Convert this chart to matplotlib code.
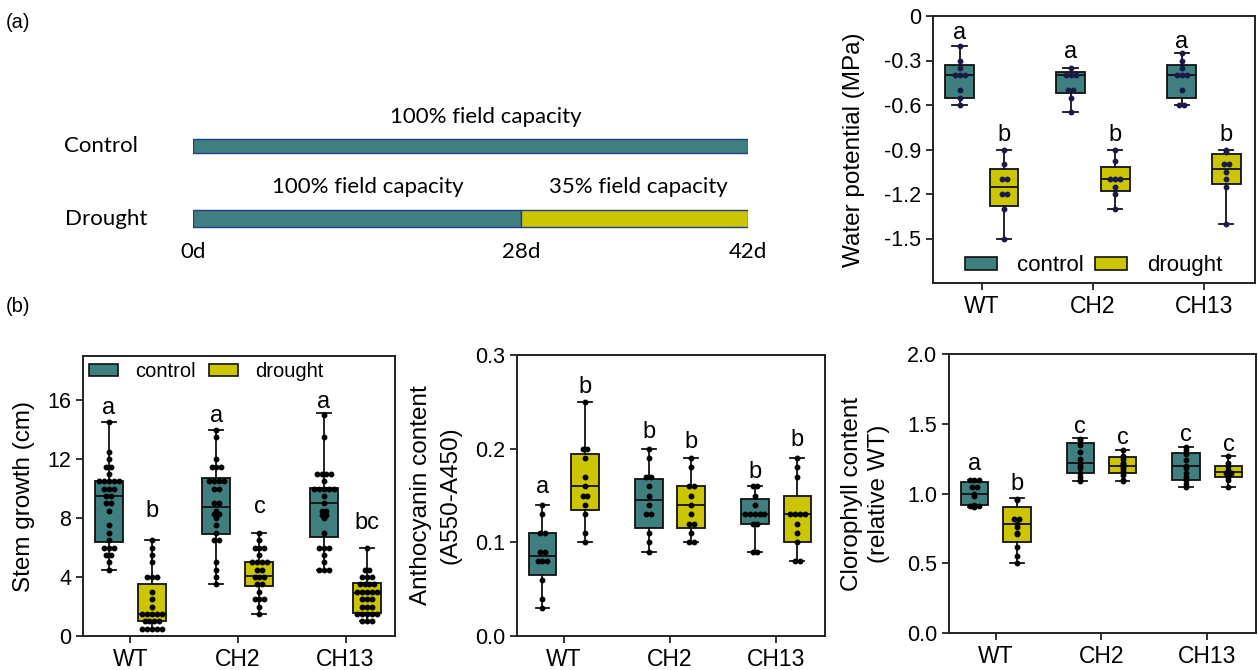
import matplotlib
matplotlib.use("Agg")
import matplotlib.pyplot as plt
from matplotlib.patches import Patch
import numpy as np

plt.rcParams['font.family'] = ['Liberation Sans', 'DejaVu Sans']
plt.rcParams['axes.unicode_minus'] = False

TEAL = '#3f7f7f'
YELLOW = '#cbc600'

genotypes = ['WT', 'CH2', 'CH13']

# schematic: watering regime (days)
days = [0, 28, 42]

# box stats per genotype: (min, q1, median, q3, max)
wp_ctrl_box = [(-0.6, -0.55, -0.4, -0.33, -0.2), (-0.65, -0.52, -0.4, -0.38, -0.35), (-0.6, -0.55, -0.4, -0.33, -0.25)]
wp_drt_box = [(-1.5, -1.28, -1.15, -1.03, -0.9), (-1.3, -1.18, -1.1, -1.02, -0.9), (-1.4, -1.135, -1.03, -0.93, -0.9)]
wp_ctrl_pts = [[-0.2, -0.3, -0.35, -0.4, -0.4, -0.4, -0.5, -0.55, -0.6],
               [-0.35, -0.4, -0.4, -0.4, -0.5, -0.5, -0.55, -0.65],
               [-0.25, -0.3, -0.35, -0.4, -0.4, -0.4, -0.5, -0.6, -0.6]]
wp_drt_pts = [[-0.9, -1.0, -1.1, -1.1, -1.2, -1.2, -1.3, -1.5],
              [-0.9, -0.98, -1.1, -1.1, -1.1, -1.15, -1.2, -1.3],
              [-0.9, -0.92, -1.0, -1.0, -1.05, -1.1, -1.15, -1.4]]
wp_letters = [('a', 'b'), ('a', 'b'), ('a', 'b')]
wp_letter_y = [(-0.115, -0.8), (-0.24, -0.8), (-0.175, -0.8)]

stem_ctrl_box = [(4.5, 6.4, 9.5, 10.5, 14.5), (3.5, 6.9, 8.75, 10.7, 14.0), (4.5, 6.75, 9.0, 10.05, 15.1)]
stem_drt_box = [(0.5, 1.0, 1.5, 3.55, 6.5), (1.5, 3.4, 4.05, 5.05, 7.0), (1.0, 1.55, 2.95, 3.6, 6.0)]
stem_ctrl_pts = [[14.5, 12.5, 12, 11.5, 11.5, 11, 10.5, 10.5, 10.5, 10.5, 10.5, 10, 10, 10, 9.5, 9.5,
                  9, 9, 8.5, 7.5, 7, 6.5, 6, 6, 6, 5.5, 5.5, 5, 4.5],
                 [14, 13.5, 12, 11.5, 11.5, 11.5, 10.5, 10.5, 10.5, 10.5, 10, 10, 9, 9, 8.5, 8.25, 8.25,
                  8, 7.5, 7, 6.5, 6.5, 5, 4.5, 4, 3.5],
                 [15, 13.5, 11, 11, 11, 11, 10.5, 10, 10, 10, 10, 10, 9.5, 9, 8.5, 8.5, 8.2, 8.2, 8,
                  7, 6, 6, 6, 5.5, 5, 4.5, 4.5, 4.5]]
stem_drt_pts = [[6.5, 6, 5.5, 5, 4, 4, 4, 3, 2.5, 2, 1.5, 1.5, 1.5, 1.5, 1.5, 1, 1, 1, 1,
                 0.5, 0.5, 0.5, 0.5, 0.5],
                [7, 6.5, 6, 6, 6, 5.5, 5, 5, 5, 5, 4.5, 4.5, 4, 4, 4, 3.5, 3.5, 3, 2.5, 2.5, 2.5, 2, 1.5],
                [6, 4.5, 4.5, 4, 4, 4, 3.5, 3.5, 3.5, 3.5, 3, 3, 3, 3, 3, 2.5, 2.5, 2.5, 2, 2, 2,
                 1.5, 1.5, 1.5, 1.5, 1.5, 1, 1, 1]]
stem_letters = [('a', 'b'), ('a', 'c'), ('a', 'bc')]
stem_letter_y = [(15.46, 8.5), (14.9, 8.75), (15.9, 7.65)]

anth_ctrl_box = [(0.03, 0.065, 0.085, 0.11, 0.14), (0.09, 0.115, 0.145, 0.168, 0.2), (0.09, 0.12, 0.13, 0.146, 0.16)]
anth_drt_box = [(0.10, 0.135, 0.16, 0.194, 0.25), (0.10, 0.115, 0.14, 0.16, 0.19), (0.08, 0.10, 0.13, 0.15, 0.19)]
anth_ctrl_pts = [[0.14, 0.13, 0.11, 0.11, 0.09, 0.09, 0.08, 0.08, 0.08, 0.06, 0.04, 0.03],
                 [0.2, 0.19, 0.17, 0.17, 0.16, 0.15, 0.14, 0.13, 0.13, 0.11, 0.10, 0.09],
                 [0.16, 0.16, 0.15, 0.14, 0.13, 0.13, 0.13, 0.13, 0.13, 0.12, 0.12, 0.09, 0.09]]
anth_drt_pts = [[0.25, 0.2, 0.2, 0.19, 0.17, 0.16, 0.15, 0.15, 0.14, 0.13, 0.11, 0.10],
                [0.19, 0.18, 0.16, 0.16, 0.15, 0.14, 0.13, 0.12, 0.12, 0.11, 0.10, 0.10],
                [0.19, 0.18, 0.17, 0.13, 0.13, 0.13, 0.13, 0.12, 0.11, 0.10, 0.08, 0.08]]
anth_letters = [('a', 'b'), ('b', 'b'), ('b', 'b')]
anth_letter_y = [(0.159, 0.266), (0.218, 0.207), (0.175, 0.209)]

chl_ctrl_box = [(0.9, 0.92, 1.0, 1.08, 1.1), (1.09, 1.15, 1.22, 1.365, 1.395), (1.05, 1.1, 1.2, 1.29, 1.33)]
chl_drt_box = [(0.5, 0.65, 0.78, 0.90, 0.965), (1.09, 1.15, 1.2, 1.26, 1.31), (1.05, 1.12, 1.156, 1.197, 1.27)]
chl_ctrl_pts = [[1.1, 1.1, 1.1, 1.05, 1.05, 1.0, 0.98, 0.92, 0.91, 0.91, 0.91, 0.9],
                [1.39, 1.38, 1.35, 1.3, 1.25, 1.22, 1.2, 1.18, 1.15, 1.12, 1.1, 1.09],
                [1.33, 1.31, 1.28, 1.24, 1.2, 1.18, 1.15, 1.12, 1.1, 1.07, 1.05]]
chl_drt_pts = [[0.96, 0.95, 0.82, 0.82, 0.78, 0.76, 0.72, 0.71, 0.62, 0.55, 0.5],
               [1.31, 1.27, 1.25, 1.22, 1.21, 1.2, 1.18, 1.16, 1.13, 1.1, 1.09],
               [1.27, 1.22, 1.2, 1.17, 1.16, 1.15, 1.15, 1.13, 1.12, 1.1, 1.05]]
chl_letters = [('a', 'b'), ('c', 'c'), ('c', 'c')]
chl_letter_y = [(1.21, 1.07), (1.48, 1.40), (1.42, 1.35)]


def swarm_x(center, values, dx=0.045):
    vals = np.asarray(values)
    xs = np.empty(len(vals))
    for v in np.unique(vals):
        idx = np.where(vals == v)[0]
        xs[idx] = center + (np.arange(len(idx)) - (len(idx) - 1) / 2) * dx
    return xs


def box_panel(ax, ctrl_box, drt_box, ctrl_pts, drt_pts, letters, letter_y, dot_color='black'):
    off = 0.2
    for i in range(len(genotypes)):
        for j, (bx, pts, col) in enumerate([(ctrl_box[i], ctrl_pts[i], TEAL),
                                            (drt_box[i], drt_pts[i], YELLOW)]):
            pos = i - off if j == 0 else i + off
            st = dict(whislo=bx[0], q1=bx[1], med=bx[2], q3=bx[3], whishi=bx[4], fliers=[])
            ax.bxp([st], positions=[pos], widths=0.26, capwidths=0.13, patch_artist=True,
                   showfliers=False,
                   boxprops=dict(facecolor=col, edgecolor='#111111', linewidth=1.3),
                   medianprops=dict(color='#111111', linewidth=1.3),
                   whiskerprops=dict(color='#111111', linewidth=1.3),
                   capprops=dict(color='#111111', linewidth=1.3))
            ax.plot(swarm_x(pos, pts), pts, 'o', color=dot_color, ms=3.2, zorder=5)
            ax.text(pos, letter_y[i][j], letters[i][j], ha='center', va='center', fontsize=17)
    ax.set_xticks(range(len(genotypes)))
    ax.set_xticklabels(genotypes)
    ax.set_xlim(-0.44, 2.46)
    ax.tick_params(width=1.3, length=5, color='#222222')
    ax.tick_params(axis='x', labelsize=16.5)
    ax.tick_params(axis='y', labelsize=15.5)
    for s in ax.spines.values():
        s.set_linewidth(1.4)
        s.set_color('#222222')


fig = plt.figure(figsize=(12.58, 6.70), dpi=100)

# ---- (a) schematic (drawn not to scale, as in the original)
bar_frac = [0, 0.591, 1]
ax0 = fig.add_axes([193 / 1258, 1 - 270 / 670, 555 / 1258, 180 / 670])
ax0.set_xscale('function', functions=(lambda d: np.interp(d, days, bar_frac),
                                      lambda f: np.interp(f, bar_frac, days)))
ax0.set_xlim(days[0], days[-1])
ax0.set_ylim(-0.71, 1.772)
ax0.axis('off')
ax0.barh(1, days[2] - days[0], left=days[0], height=0.2, color=TEAL, edgecolor='#1f3d8a', lw=1)
ax0.barh([0, 0], [days[1] - days[0], days[2] - days[1]], left=[days[0], days[1]], height=0.23,
         color=[TEAL, YELLOW], edgecolor='#1f3d8a', lw=1)
sfont = dict(family=['Lato', 'DejaVu Sans'], fontsize=16)
tr = ax0.get_yaxis_transform()
ax0.text(-0.232, 1, 'Control', ha='left', va='center', transform=tr, **sfont)
ax0.text(-0.230, 0, 'Drought', ha='left', va='center', transform=tr, **sfont)
ax0.text(0.528, 1.4, '100% field capacity', ha='center', va='center', transform=tr, **sfont)
ax0.text(0.315, 0.434, '100% field capacity', ha='center', va='center', transform=tr, **sfont)
ax0.text(0.802, 0.434, '35% field capacity', ha='center', va='center', transform=tr, **sfont)
for d in days:
    ax0.text(d, -0.46, f'{d}d', ha='center', va='center', **sfont)

fig.text(6 / 1258, 1 - 22 / 670, '(a)', fontsize=14.5, va='center')
fig.text(6 / 1258, 1 - 307 / 670, '(b)', fontsize=14.5, va='center')

handles = [Patch(facecolor=TEAL, edgecolor='#111111', lw=1.2, label='control'),
           Patch(facecolor=YELLOW, edgecolor='#111111', lw=1.2, label='drought')]

# ---- (a) water potential
ax1 = fig.add_axes([933 / 1258, 1 - 283 / 670, 322 / 1258, 267 / 670])
box_panel(ax1, wp_ctrl_box, wp_drt_box, wp_ctrl_pts, wp_drt_pts, wp_letters, wp_letter_y,
          dot_color='#1a1a4a')
ax1.set_ylim(-1.8, 0)
ax1.set_yticks([0, -0.3, -0.6, -0.9, -1.2, -1.5])
ax1.set_yticklabels(['0', '-0.3', '-0.6', '-0.9', '-1.2', '-1.5'])
ax1.set_ylabel('Water potential (MPa)', fontsize=17.5)
ax1.yaxis.set_label_coords(-0.211, 0.5)
ax1.legend(handles=handles, loc='lower center', ncol=2, frameon=False, fontsize=16,
           handlelength=1.45, handleheight=0.55, handletextpad=0.9, columnspacing=0.5,
           borderaxespad=-0.1)

# ---- (b) stem growth
ax2 = fig.add_axes([83 / 1258, 1 - 636 / 670, 312 / 1258, 280 / 670])
box_panel(ax2, stem_ctrl_box, stem_drt_box, stem_ctrl_pts, stem_drt_pts, stem_letters, stem_letter_y)
ax2.set_ylim(0, 19)
ax2.set_yticks([0, 4, 8, 12, 16])
ax2.set_ylabel('Stem growth (cm)', fontsize=17.5)
ax2.yaxis.set_label_coords(-0.154, 0.5)
ax2.legend(handles=handles, loc='upper left', ncol=2, frameon=False, fontsize=14.5,
           handlelength=1.45, handleheight=0.6, handletextpad=0.85, columnspacing=0.65,
           borderaxespad=0.1, borderpad=0.2)

# ---- (b) anthocyanin
ax3 = fig.add_axes([517 / 1258, 1 - 636 / 670, 308 / 1258, 281 / 670])
box_panel(ax3, anth_ctrl_box, anth_drt_box, anth_ctrl_pts, anth_drt_pts, anth_letters, anth_letter_y)
ax3.set_ylim(0, 0.3)
ax3.set_yticks([0, 0.1, 0.2, 0.3])
ax3.set_yticklabels(['0.0', '0.1', '0.2', '0.3'])
ax3.set_ylabel('Anthocyanin content\n(A550-A450)', fontsize=17.5, linespacing=1.45)
ax3.yaxis.set_label_coords(-0.179, 0.5)

# ---- (b) chlorophyll
ax4 = fig.add_axes([949 / 1258, 1 - 633 / 670, 307 / 1258, 279 / 670])
box_panel(ax4, chl_ctrl_box, chl_drt_box, chl_ctrl_pts, chl_drt_pts, chl_letters, chl_letter_y)
ax4.set_ylim(0, 2)
ax4.set_yticks([0, 0.5, 1.0, 1.5, 2.0])
ax4.set_yticklabels(['0.0', '0.5', '1.0', '1.5', '2.0'])
ax4.set_ylabel('Clorophyll content\n(relative WT)', fontsize=17.5, linespacing=1.3)
ax4.yaxis.set_label_coords(-0.192, 0.5)

fig.savefig('out.png', dpi=100)
